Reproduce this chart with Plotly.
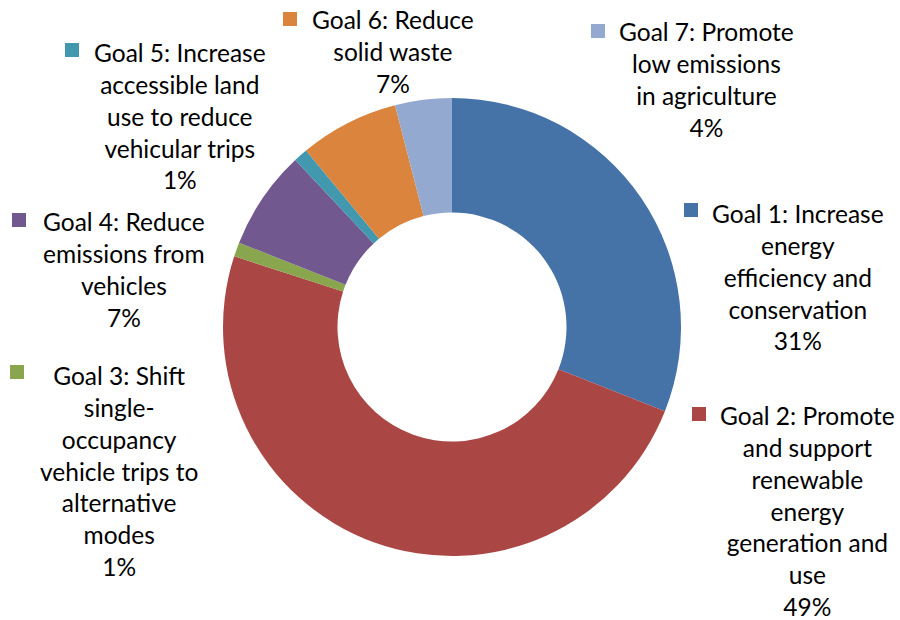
import plotly.graph_objects as go

# Share of emission reductions by goal
goals = [
    "Goal 1: Increase energy efficiency and conservation",
    "Goal 2: Promote and support renewable energy generation and use",
    "Goal 3: Shift single-occupancy vehicle trips to alternative modes",
    "Goal 4: Reduce emissions from vehicles",
    "Goal 5: Increase accessible land use to reduce vehicular trips",
    "Goal 6: Reduce solid waste",
    "Goal 7: Promote low emissions in agriculture",
]
shares = [31, 49, 1, 7, 1, 7, 4]
colors = ["#4572A7", "#AA4643", "#89A54E", "#71588F", "#4198AF", "#DB843D", "#93A9CF"]

# Wrapped label text as it appears next to each slice
label_lines = [
    ["Goal 1: Increase", "energy", "efficiency and", "conservation"],
    ["Goal 2: Promote", "and support", "renewable", "energy", "generation and", "use"],
    ["Goal 3: Shift", "single-", "occupancy", "vehicle trips to", "alternative", "modes"],
    ["Goal 4: Reduce", "emissions from", "vehicles"],
    ["Goal 5: Increase", "accessible land", "use to reduce", "vehicular trips"],
    ["Goal 6: Reduce", "solid waste"],
    ["Goal 7: Promote", "low emissions", "in agriculture"],
]

W, H = 900, 620


def px(x):
    return x / W


def py(y):
    return 1 - y / H


# Label block placement (pixel centre of text block, pixel centre of legend key)
label_pos = [(798, 276.5), (807, 510.5), (119, 470.5), (123.5, 269.5),
             (180, 115.5), (393, 51.5), (706, 79)]
key_pos = [(691, 210), (699, 414), (17, 372), (19, 220), (72, 50), (290, 19), (598, 31)]
KEY = 14

cx, cy, r = 452, 327, 229

fig = go.Figure(go.Pie(
    labels=goals,
    values=shares,
    marker=dict(colors=colors, line=dict(width=0)),
    hole=0.5,
    sort=False,
    direction="clockwise",
    rotation=0,
    textinfo="none",
    hoverinfo="label+percent",
    domain=dict(x=[px(cx - r), px(cx + r)], y=[py(cy + r), py(cy - r)]),
))

annotations = []
shapes = []
for i, (lines, val) in enumerate(zip(label_lines, shares)):
    text = "<br>".join(lines + [f"{val}%"])
    lx, ly = label_pos[i]
    annotations.append(dict(
        text=text, x=px(lx), y=py(ly), xref="paper", yref="paper",
        xanchor="center", yanchor="middle", align="center", showarrow=False,
        font=dict(family="Lato", size=24.5, color="#000000"),
    ))
    kx, ky = key_pos[i]
    shapes.append(dict(
        type="rect", xref="paper", yref="paper",
        x0=px(kx - KEY / 2), x1=px(kx + KEY / 2),
        y0=py(ky + KEY / 2), y1=py(ky - KEY / 2),
        fillcolor=colors[i], line=dict(width=0),
    ))

fig.update_layout(
    width=W, height=H,
    margin=dict(l=0, r=0, t=0, b=0),
    paper_bgcolor="white",
    plot_bgcolor="white",
    showlegend=False,
    annotations=annotations,
    shapes=shapes,
)

fig.write_html("out.html")
